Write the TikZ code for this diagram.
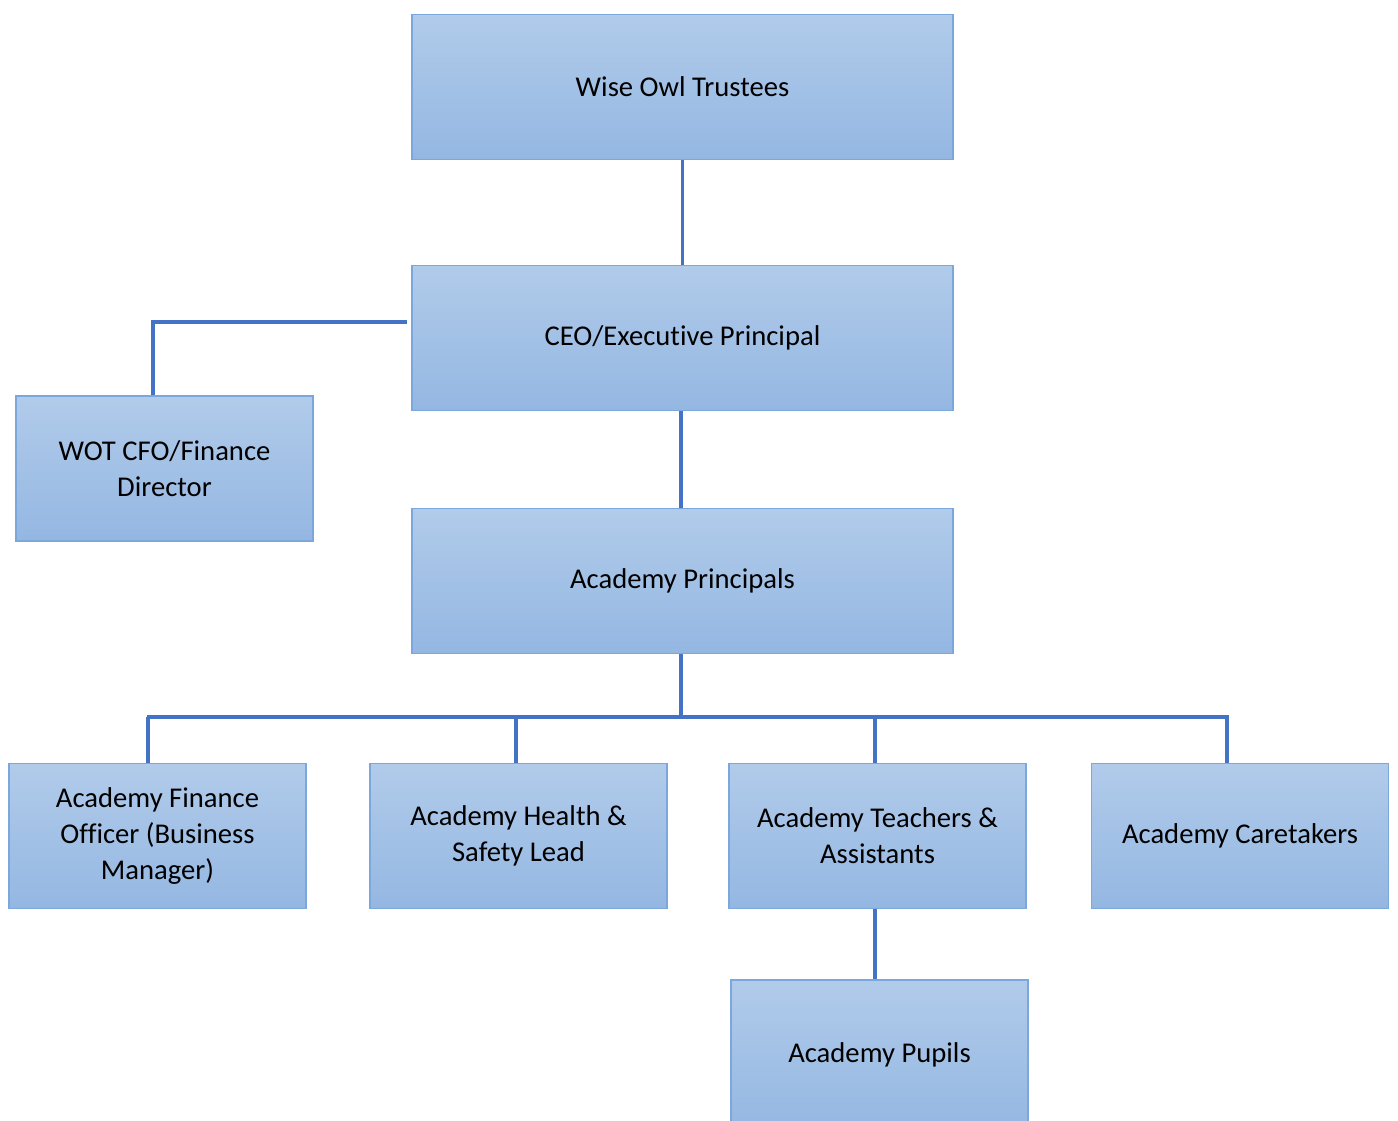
\documentclass[tikz,border=0pt]{standalone}
\usepackage{fontspec}
\setmainfont[Ligatures=NoCommon]{Carlito}
\definecolor{boxtop}{HTML}{B1CBEA}
\definecolor{boxbottom}{HTML}{94B7E2}
\definecolor{boxline}{HTML}{7BA7DC}
\definecolor{linkblue}{HTML}{4472C4}
\tikzset{
  orgbox/.style={draw=boxline, line width=0.8pt, top color=boxtop, bottom color=boxbottom,
    minimum height=2.9cm, align=center, inner sep=2pt,
    font=\fontsize{16.3pt}{20.4pt}\selectfont},
  widebox/.style={orgbox, minimum width=10.82cm},
  smallbox/.style={orgbox, minimum width=5.94cm},
  link/.style={draw=linkblue, line width=1.9pt}
}
\begin{document}
\begin{tikzpicture}[x=0.02cm, y=-0.02cm]
    \useasboundingbox (0,0) rectangle (1398,1120);

    \node[widebox] (trustees) at (682.5,87) {Wise Owl Trustees};
    \node[widebox] (ceo) at (682.5,338) {CEO/Executive Principal};
    \node[smallbox] (cfo) at (164.5,468.5) {WOT CFO/Finance\\Director};
    \node[widebox] (principals) at (682.5,581) {Academy Principals};

    \node[smallbox] (finance) at (157.5,836) {Academy Finance\\Officer (Business\\Manager)};
    \node[smallbox] (health) at (518.5,836) {Academy Health \&\\Safety Lead};
    \node[smallbox] (teachers) at (877.5,836) {Academy Teachers \&\\Assistants};
    \node[smallbox] (caretakers) at (1240,836) {Academy Caretakers};
    \node[smallbox, minimum height=3cm] (pupils) at (879.5,1055) {Academy Pupils};

    \coordinate (busL) at (147,717);
    \coordinate (busR) at (1229,717);

    \draw[link] (trustees) -- (ceo);
    \draw[link] ([yshift=0.32cm,xshift=-0.08cm]ceo.west) -| ([xshift=-0.23cm]cfo.north);
    \draw[link] ([xshift=-0.03cm]ceo.south) -- ([xshift=-0.03cm]principals.north);
    \draw[link] ([xshift=-0.03cm]principals.south) -- ([xshift=-0.03cm]principals.south |- busL);
    \draw[link] (busL) -- (busR);

    \foreach \child/\shift in {finance/-0.19cm, health/-0.05cm, teachers/-0.05cm, caretakers/-0.26cm}
      \draw[link] ([xshift=\shift]\child.north) -- ([xshift=\shift]\child.north |- busL);

    \draw[link] ([xshift=-0.05cm]teachers.south) -- ([xshift=-0.05cm]teachers.south |- pupils.north);
\end{tikzpicture}
\end{document}
